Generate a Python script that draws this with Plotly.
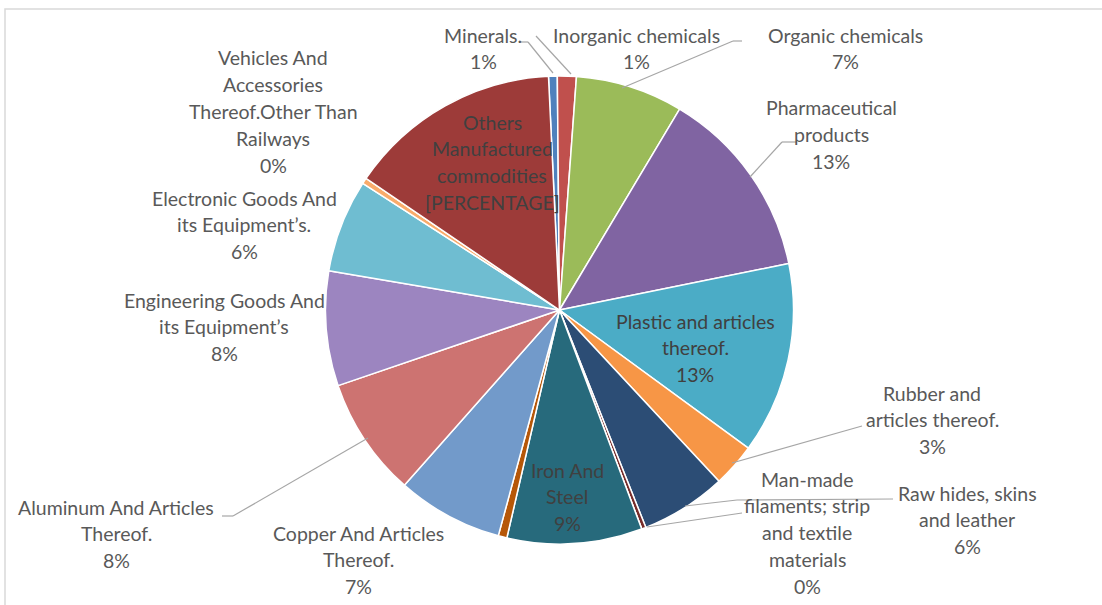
import plotly.graph_objects as go

W, H = 1102, 605

# ---- data ----
categories = [
    "Minerals.", "Inorganic chemicals", "Organic chemicals", "Pharmaceutical products",
    "Plastic and articles thereof.", "Rubber and articles thereof.", "Raw hides, skins and leather",
    "Man-made filaments; strip and textile materials", "Unlabelled", "Iron And Steel",
    "Unlabelled (2)", "Copper And Articles Thereof.", "Aluminum And Articles Thereof.",
    "Engineering Goods And its Equipment’s", "Electronic Goods And its Equipment’s.",
    "Vehicles And Accessories Thereof.Other Than Railways", "Others Manufactured commodities",
]
values = [0.6, 1.3, 7.4, 13.2, 13.2, 3.0, 5.9, 0.3, 0.0, 9.3, 0.6, 7.3, 8.2, 7.9, 6.4, 0.4, 14.7]

# label text lines as displayed (None = no label); "{p}" is the computed percentage
label_lines = [
    ["Minerals.", "{p}"],
    ["Inorganic chemicals", "{p}"],
    ["Organic chemicals", "{p}"],
    ["Pharmaceutical", "products", "{p}"],
    ["Plastic and articles", "thereof.", "{p}"],
    ["Rubber and", "articles thereof.", "{p}"],
    ["Raw hides, skins", "and leather", "{p}"],
    ["Man-made", "filaments; strip", "and textile", "materials", "{p}"],
    None,
    ["Iron And", "Steel", "{p}"],
    None,
    ["Copper And Articles", "Thereof.", "{p}"],
    ["Aluminum And Articles", "Thereof.", "{p}"],
    ["Engineering Goods And", "its Equipment’s", "{p}"],
    ["Electronic Goods And", "its Equipment’s.", "{p}"],
    ["Vehicles And", "Accessories", "Thereof.Other Than", "Railways", "{p}"],
    ["Others", "Manufactured", "commodities", "[PERCENTAGE]"],
]

# ---- styles / layout positions ----
colors = ["#4F81BD", "#C0504D", "#9BBB59", "#8064A2", "#4BACC6", "#F79646", "#2C4D75",
          "#772C2A", "#5F7530", "#276A7C", "#B65708", "#729ACA", "#CD7371", "#9C85C0",
          "#6FBDD1", "#F9AB6B", "#9D3B39"]
inside = [False, False, False, False, True, False, False, False, False, True, False,
          False, False, False, False, False, True]
# label block: (center x px, first line center y px)
label_pos = [(483, 35), (636, 35), (845, 35), (831, 108), (695, 321), (932, 393),
             (967, 493), (807, 479), None, (567, 470), None, (358, 533), (116, 507),
             (224, 300), (244, 198), (273, 58), (492, 122)]
line_step = 26.8

leaders = [
    [(519, 42), (528, 42), (553, 73)],
    [(536, 36), (571, 74)],
    [(742, 41), (733, 41), (622, 88)],
    [(797, 142), (782, 142), (750, 177)],
    [(862, 426), (732, 463)],
    [(893, 499), (737, 500), (685, 506)],
    [(742, 513), (647, 527)],
    [(222, 516), (233, 516), (368, 438)],
]

cx, cy, r = 559.5, 310, 234


def px(x):
    return x / W


def py(y):
    return 1 - y / H


total = sum(values)

fig = go.Figure(go.Pie(
    labels=categories,
    values=values,
    sort=False,
    direction="clockwise",
    rotation=-2.7,
    marker=dict(colors=colors, line=dict(color="white", width=1.5)),
    textinfo="none",
    hoverinfo="label+percent",
    domain=dict(x=[px(cx - r), px(cx + r)], y=[py(cy + r), py(cy - r)]),
    showlegend=False,
))

annotations = []
for i, lines in enumerate(label_lines):
    if lines is None:
        continue
    pct = f"{round(values[i] / total * 100)}%"
    x0, y0 = label_pos[i]
    for k, t in enumerate(lines):
        annotations.append(dict(
            x=px(x0), y=py(y0 + k * line_step), xref="paper", yref="paper",
            text=t.replace("{p}", pct), showarrow=False,
            xanchor="center", yanchor="middle",
            font=dict(family="Lato, Open Sans, sans-serif", size=19.5,
                      color="#404040" if inside[i] else "#595959"),
        ))

shapes = [dict(type="rect", xref="paper", yref="paper",
               x0=px(5), x1=1.02, y0=-0.02, y1=py(9),
               line=dict(color="#D9D9D9", width=1.5), fillcolor="rgba(0,0,0,0)", layer="below")]
for seg in leaders:
    for (a, b) in zip(seg[:-1], seg[1:]):
        shapes.append(dict(type="line", xref="paper", yref="paper",
                           x0=px(a[0]), y0=py(a[1]), x1=px(b[0]), y1=py(b[1]),
                           line=dict(color="#A6A6A6", width=1.2)))

fig.update_layout(
    width=W, height=H,
    margin=dict(l=0, r=0, t=0, b=0),
    paper_bgcolor="white",
    plot_bgcolor="white",
    annotations=annotations,
    shapes=shapes,
)

fig.write_html("out.html",
               config={"displayModeBar": False},
               post_script="document.body.style.margin='0px';document.body.style.overflow='hidden';")
